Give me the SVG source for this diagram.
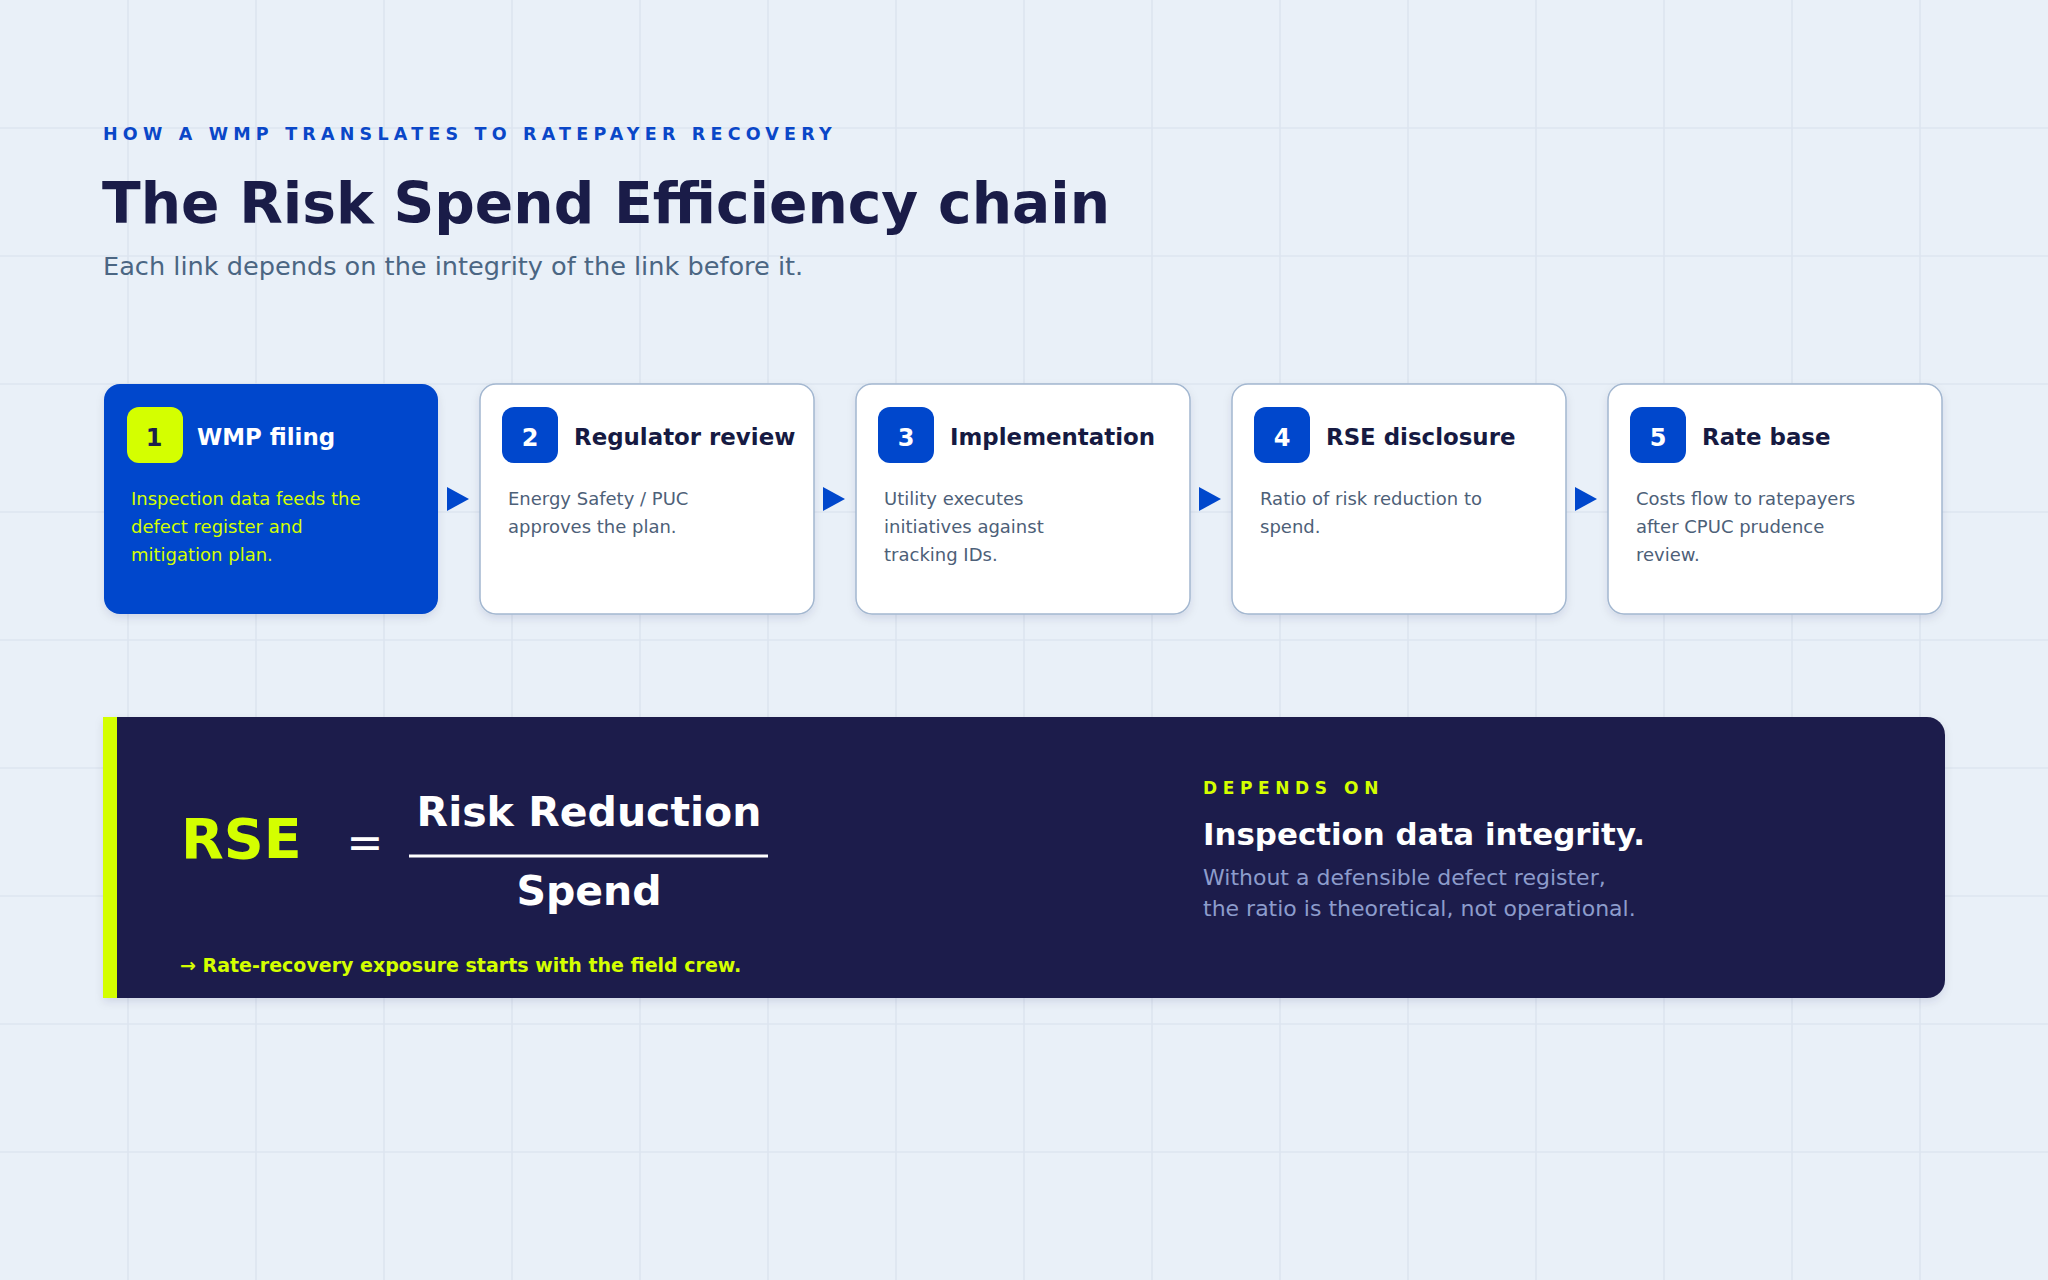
<svg xmlns="http://www.w3.org/2000/svg" width="2048" height="1280" viewBox="0 0 2048 1280">
  <defs>
    <filter id="shadow" x="-10%" y="-10%" width="120%" height="130%">
      <feDropShadow dx="0" dy="4" stdDeviation="4" flood-color="#1c1e4a" flood-opacity="0.10"/>
    </filter>
    <style>
      .sans { font-family: "DejaVu Sans", "Liberation Sans", sans-serif; }
      .card { fill: #ffffff; stroke: #a3b7d0; stroke-width: 1.5; }
      .card-hl { fill: #0047cc; }
      .badge { fill: #0047cc; }
      .badge-hl { fill: #d4ff00; }
      .num { font-family: "DejaVu Sans", "Liberation Sans", sans-serif; font-size: 24px; font-weight: 700; fill: #ffffff; text-anchor: middle; }
      .num-hl { fill: #1c1e4a; }
      .ctitle { font-family: "DejaVu Sans", "Liberation Sans", sans-serif; font-size: 22.9px; font-weight: 700; fill: #161a42; }
      .ctitle-hl { fill: #ffffff; }
      .desc { font-family: "DejaVu Sans", "Liberation Sans", sans-serif; font-size: 18px; fill: #4d6078; }
      .desc-hl { fill: #d4ff00; }
      .arrow { fill: #0047cc; }
    </style>
  </defs>

  <rect width="2048" height="1280" fill="#e9f0f8"/>
  <g id="grid" stroke="#dde5ef" stroke-width="1.6" fill="none">
    <path d="M128 0V1280M256 0V1280M384 0V1280M512 0V1280M640 0V1280M768 0V1280M896 0V1280M1024 0V1280M1152 0V1280M1280 0V1280M1408 0V1280M1536 0V1280M1664 0V1280M1792 0V1280M1920 0V1280"/>
    <path d="M0 128H2048M0 256H2048M0 384H2048M0 512H2048M0 640H2048M0 768H2048M0 896H2048M0 1024H2048M0 1152H2048"/>
  </g>

  <g id="header" class="sans">
    <text x="103" y="140" font-size="17.5" font-weight="700" fill="#0a47c8" letter-spacing="5.2">HOW A WMP TRANSLATES TO RATEPAYER RECOVERY</text>
    <text x="102" y="223" font-size="56.7" font-weight="700" fill="#1a1c48">The Risk Spend Efficiency chain</text>
    <text x="103" y="275" font-size="25.6" fill="#4b6683">Each link depends on the integrity of the link before it.</text>
  </g>

  <g id="node-1">
    <rect class="card-hl" x="104" y="384" width="334" height="230" rx="16" filter="url(#shadow)"/>
    <rect class="badge-hl" x="127" y="407" width="56" height="56" rx="12"/>
    <text class="num num-hl" x="154" y="446">1</text>
    <text class="ctitle ctitle-hl" x="197" y="445">WMP filing</text>
    <text class="desc desc-hl" x="131" y="505">Inspection data feeds the</text>
    <text class="desc desc-hl" x="131" y="533">defect register and</text>
    <text class="desc desc-hl" x="131" y="561">mitigation plan.</text>
  </g>

  <g id="node-2">
    <rect class="card" x="480" y="384" width="334" height="230" rx="16" filter="url(#shadow)"/>
    <rect class="badge" x="502" y="407" width="56" height="56" rx="12"/>
    <text class="num" x="530" y="446">2</text>
    <text class="ctitle" x="574" y="445">Regulator review</text>
    <text class="desc" x="508" y="505">Energy Safety / PUC</text>
    <text class="desc" x="508" y="533">approves the plan.</text>
  </g>

  <g id="node-3">
    <rect class="card" x="856" y="384" width="334" height="230" rx="16" filter="url(#shadow)"/>
    <rect class="badge" x="878" y="407" width="56" height="56" rx="12"/>
    <text class="num" x="906" y="446">3</text>
    <text class="ctitle" x="950" y="445">Implementation</text>
    <text class="desc" x="884" y="505">Utility executes</text>
    <text class="desc" x="884" y="533">initiatives against</text>
    <text class="desc" x="884" y="561">tracking IDs.</text>
  </g>

  <g id="node-4">
    <rect class="card" x="1232" y="384" width="334" height="230" rx="16" filter="url(#shadow)"/>
    <rect class="badge" x="1254" y="407" width="56" height="56" rx="12"/>
    <text class="num" x="1282" y="446">4</text>
    <text class="ctitle" x="1326" y="445">RSE disclosure</text>
    <text class="desc" x="1260" y="505">Ratio of risk reduction to</text>
    <text class="desc" x="1260" y="533">spend.</text>
  </g>

  <g id="node-5">
    <rect class="card" x="1608" y="384" width="334" height="230" rx="16" filter="url(#shadow)"/>
    <rect class="badge" x="1630" y="407" width="56" height="56" rx="12"/>
    <text class="num" x="1658" y="446">5</text>
    <text class="ctitle" x="1702" y="445">Rate base</text>
    <text class="desc" x="1636" y="505">Costs flow to ratepayers</text>
    <text class="desc" x="1636" y="533">after CPUC prudence</text>
    <text class="desc" x="1636" y="561">review.</text>
  </g>

  <g id="connectors">
    <polygon class="arrow" points="447,487 469,499 447,511"/>
    <polygon class="arrow" points="823,487 845,499 823,511"/>
    <polygon class="arrow" points="1199,487 1221,499 1199,511"/>
    <polygon class="arrow" points="1575,487 1597,499 1575,511"/>
  </g>

  <g id="rse-panel" class="sans">
    <path d="M103 717H1927A18 18 0 0 1 1945 735V980A18 18 0 0 1 1927 998H103Z" fill="#1e1f4b" filter="url(#shadow)"/>
    <rect x="103" y="717" width="14" height="281" fill="#d4ff00"/>
    <text x="181" y="858" font-size="55.5" font-weight="700" fill="#d4ff00">RSE</text>
    <text x="365" y="858" font-size="44" fill="#ffffff" text-anchor="middle">=</text>
    <text x="589" y="826" font-size="41" font-weight="700" fill="#ffffff" text-anchor="middle">Risk Reduction</text>
    <line x1="409" y1="856" x2="768" y2="856" stroke="#ffffff" stroke-width="3"/>
    <text x="589" y="905" font-size="41" font-weight="700" fill="#ffffff" text-anchor="middle">Spend</text>
    <text x="180" y="972" font-size="19" font-weight="700" fill="#d4ff00">→ Rate-recovery exposure starts with the field crew.</text>
    <text x="1203" y="794" font-size="17" font-weight="700" fill="#d4ff00" letter-spacing="5.6">DEPENDS ON</text>
    <text x="1203" y="845" font-size="30.9" font-weight="700" fill="#ffffff">Inspection data integrity.</text>
    <text x="1203" y="885" font-size="22" fill="#8d9ccc">Without a defensible defect register,</text>
    <text x="1203" y="916" font-size="22" fill="#8d9ccc">the ratio is theoretical, not operational.</text>
  </g>
</svg>
